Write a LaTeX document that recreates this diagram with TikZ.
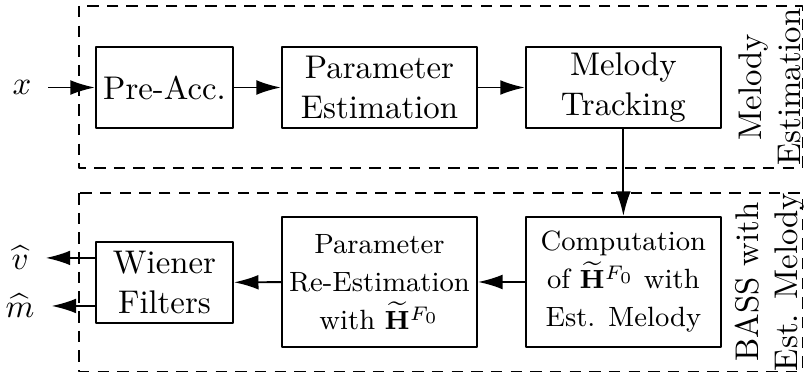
\documentclass[tikz,border=0pt]{standalone}
\usetikzlibrary{arrows.meta}
\tikzset{
  block/.style={draw, semithick, align=center, minimum width=2.09cm, minimum height=0.868cm, inner sep=1pt},
  smallblock/.style={block, minimum height=1.393cm, font=\fontsize{8.5pt}{11.6pt}\selectfont},
  group/.style={draw, thin, dash pattern=on 3.5pt off 2.5pt},
  sig/.style={inner xsep=0.5em, inner ysep=1pt},
  grouplabel/.style={rotate=90, align=center, inner sep=0pt}
}
\begin{document}
\begin{tikzpicture}[line join=round, >={Latex[length=7.5pt,width=4.5pt]}]
		\useasboundingbox (0,0) rectangle (8.63,-4.04);
		% groups
		\draw[group] (0.847,-0.064) rectangle (8.60,-1.80);
		\draw[group] (0.847,-2.07) rectangle (8.60,-3.98);
		\node[grouplabel] (lblmel) at (8.253,-0.933) {Melody\\Estimation};
		\node[grouplabel] (lblbass) at (8.253,-3.023) {BASS with\\Est. Melody};
		% melody estimation
		\node[block, minimum width=1.468cm] (pre) at (1.763,-0.938) {Pre-Acc.};
		\node[block] (parest) at (4.068,-0.938) {Parameter\\Estimation};
		\node[block] (track) at (6.683,-0.938) {Melody\\Tracking};
		\node[sig] (x) at (0.236,-0.938) {$x$};
		% separation
		\node[smallblock] (comp) at (6.683,-3.023) {Computation\\of $\widetilde{\mathbf{H}}^{F_0}$ with\\Est. Melody};
		\node[smallblock] (reest) at (4.068,-3.023) {Parameter\\Re-Estimation\\with $\widetilde{\mathbf{H}}^{F_0}$};
		\node[block, minimum width=1.468cm] (wiener) at (1.763,-3.028) {Wiener\\Filters};
		\node[sig] (vhat) at (0.215,-2.765) {$\widehat{v}$};
		\node[sig] (mhat) at (0.215,-3.280) {$\widehat{m}$};
		\draw[->, semithick] (x) -- (pre);
		\draw[->, semithick] (pre) -- (parest);
		\draw[->, semithick] (parest) -- (track);
		\draw[->, semithick] (track) -- (comp);
		\draw[->, semithick] (comp) -- (reest);
		\draw[->, semithick] (reest) -- (wiener);
		\draw[->, semithick] (wiener.west |- vhat) -- (vhat);
		\draw[->, semithick] (wiener.west |- mhat) -- (mhat);
	\end{tikzpicture}
\end{document}
